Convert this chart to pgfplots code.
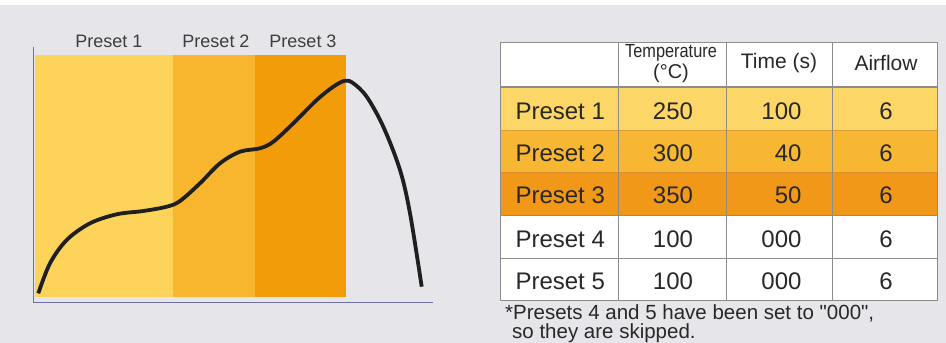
\documentclass[border=0pt]{standalone}
\usepackage{fontspec}
\setmainfont{Liberation Sans}
\usepackage{pgfplots}
\pgfplotsset{compat=1.18}

\definecolor{bg}{RGB}{230,230,234}
\definecolor{pa}{RGB}{253,211,90}
\definecolor{pb}{RGB}{248,182,46}
\definecolor{pc}{RGB}{243,156,10}
\definecolor{ta}{RGB}{253,214,104}
\definecolor{tb}{RGB}{247,183,50}
\definecolor{tc}{RGB}{241,152,24}
\definecolor{rule}{RGB}{140,140,140}
\definecolor{ink}{RGB}{40,40,40}

\tikzset{
  cell/.style={text=ink, font=\fontsize{24}{24}\selectfont},
  lab/.style={text=ink!90, font=\fontsize{18}{18}\selectfont},
  foot/.style={text=ink, anchor=base west, inner sep=0pt, font=\fontsize{20.5}{20.5}\selectfont},
}

\begin{document}
\begin{tikzpicture}
\begin{axis}[
    scale only axis,
    width=946pt, height=343pt,
    xmin=0, xmax=946, ymin=0, ymax=343,
    y dir=reverse,
    hide axis,
  ]
  % background
  \addplot[fill=white, draw=none] coordinates {(0,0) (946,0) (946,5) (0,5)} -- cycle;
  \addplot[fill=bg, draw=none] coordinates {(0,5) (946,5) (946,343) (0,343)} -- cycle;

  % preset bands
  \addplot[fill=pa, draw=none] coordinates {(35,55) (173,55) (173,297) (35,297)} -- cycle;
  \addplot[fill=pb, draw=none] coordinates {(173,55) (255,55) (255,297) (173,297)} -- cycle;
  \addplot[fill=pc, draw=none] coordinates {(255,55) (346,55) (346,297) (255,297)} -- cycle;

  % chart axes
  \addplot[draw=rule!80!blue, line width=0.9pt] coordinates {(33,47) (33,302) (433,302)};

  % temperature profile
  \addplot[smooth, tension=0.55, line width=3.8pt, color=black!88] coordinates {
    (38.3,293.3) (50,263.3) (66.7,240) (90,223.3) (116.7,214.3) (143.3,211)
    (166.7,206.7) (180,201) (200,183.3) (220,163.3) (240,151.7) (260,148.3)
    (273.3,141.7) (293.3,123.3) (316.7,100) (333.3,86.7) (345,80.7)
    (353.3,83.3) (366.7,96.7) (383.3,126.7) (400,170) (410,213.3) (421.7,286.7)
  };

  \node[lab] at (axis cs:109,41) {Preset 1};
  \node[lab] at (axis cs:216,41) {Preset 2};
  \node[lab] at (axis cs:303,41) {Preset 3};

  % table rows
  \addplot[fill=white, draw=none] coordinates {(500,42) (937,42) (937,87) (500,87)} -- cycle;
  \addplot[fill=ta, draw=none] coordinates {(500,87) (937,87) (937,130) (500,130)} -- cycle;
  \addplot[fill=tb, draw=none] coordinates {(500,130) (937,130) (937,172) (500,172)} -- cycle;
  \addplot[fill=tc, draw=none] coordinates {(500,172) (937,172) (937,215) (500,215)} -- cycle;
  \addplot[fill=white, draw=none] coordinates {(500,215) (937,215) (937,300) (500,300)} -- cycle;

  % table rules
  \addplot[draw=rule, line width=0.9pt] coordinates {(500,42) (937,42) (937,300) (500,300)} -- cycle;
  \addplot[draw=rule, line width=0.9pt] coordinates {(618,42) (618,300)};
  \addplot[draw=rule, line width=0.9pt] coordinates {(726,42) (726,300)};
  \addplot[draw=rule, line width=0.9pt] coordinates {(832,42) (832,300)};
  \addplot[draw=rule, line width=1.2pt] coordinates {(500,87) (937,87)};
  \addplot[draw=rule!50!orange, line width=0.6pt, opacity=0.5] coordinates {(500,130) (937,130)};
  \addplot[draw=rule!50!orange, line width=0.6pt, opacity=0.5] coordinates {(500,172) (937,172)};
  \addplot[draw=rule, line width=0.9pt] coordinates {(500,215) (937,215)};
  \addplot[draw=rule, line width=0.9pt] coordinates {(500,258) (937,258)};

  % header
  \node[text=ink, font=\fontsize{19}{19}\selectfont] at (axis cs:671,53) {\scalebox{0.86}[1]{Temperature}};
  \node[text=ink, font=\fontsize{20}{20}\selectfont] at (axis cs:671,73) {(°C)};
  \node[text=ink, font=\fontsize{21}{21}\selectfont] at (axis cs:779,63) {Time (s)};
  \node[text=ink, font=\fontsize{21}{21}\selectfont] at (axis cs:886,63) {Airflow};

  % body
  \node[cell, anchor=west] at (axis cs:512,111.7) {Preset 1};
  \node[cell] at (axis cs:673,111.7) {250};
  \node[cell, anchor=east] at (axis cs:805,111.7) {100};
  \node[cell] at (axis cs:886,111.7) {6};

  \node[cell, anchor=west] at (axis cs:512,153) {Preset 2};
  \node[cell] at (axis cs:673,153) {300};
  \node[cell, anchor=east] at (axis cs:805,153) {40};
  \node[cell] at (axis cs:886,153) {6};

  \node[cell, anchor=west] at (axis cs:512,195.7) {Preset 3};
  \node[cell] at (axis cs:673,195.7) {350};
  \node[cell, anchor=east] at (axis cs:805,195.7) {50};
  \node[cell] at (axis cs:886,195.7) {6};

  \node[cell, anchor=west] at (axis cs:512,239) {Preset 4};
  \node[cell] at (axis cs:673,239) {100};
  \node[cell, anchor=east] at (axis cs:805,239) {000};
  \node[cell] at (axis cs:886,239) {6};

  \node[cell, anchor=west] at (axis cs:512,281.7) {Preset 5};
  \node[cell] at (axis cs:673,281.7) {100};
  \node[cell, anchor=east] at (axis cs:805,281.7) {000};
  \node[cell] at (axis cs:886,281.7) {6};

  % footnote
  \node[foot] at (axis cs:505,319) {*Presets 4 and 5 have been set to \textquotedbl 000\textquotedbl,};
  \node[foot] at (axis cs:512,338.5) {so they are skipped.};
\end{axis}
\pgfresetboundingbox
\useasboundingbox (current axis.south west) rectangle (current axis.north east);
\end{tikzpicture}
\end{document}
